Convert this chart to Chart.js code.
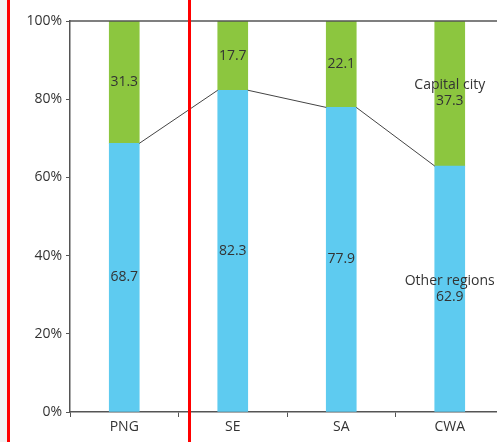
<!DOCTYPE html>
<html>
<head>
<meta charset="utf-8">
<script src="https://cdn.jsdelivr.net/npm/chart.js@4"></script>
<style>
  html, body { margin: 0; padding: 0; background: #fff; overflow: hidden; }
  #wrap { position: absolute; left: 0; top: 0; width: 506px; height: 442px; }
  .strip { position: absolute; left: 0; top: 0; width: 7px; height: 442px; background: #f2f2f2; }
  .red { position: absolute; top: 0; width: 3px; height: 442px; background: #ff0000; }
</style>
</head>
<body>
<div id="wrap"><canvas id="c" width="506" height="442"></canvas></div>
<div class="strip"></div>
<div class="red" style="left:7px"></div>
<div class="red" style="left:188px"></div>
<script>
// dati
const categories = ["PNG", "SE", "SA", "CWA"];
const otherRegions = [68.7, 82.3, 77.9, 62.9];
const capitalCity = [31.3, 17.7, 22.1, 37.3];
const seriesNames = ["Other regions", "Capital city"];

const FONT = "'Open Sans', sans-serif";
const TXT = "#333";

// linea che unisce le cime delle barre blu + bordo superiore
const linkLine = {
  id: "linkLine",
  afterDatasetsDraw(chart) {
    const ctx = chart.ctx;
    const bars = chart.getDatasetMeta(0).data;
    ctx.save();
    ctx.strokeStyle = "#444";
    ctx.lineWidth = 1;
    ctx.beginPath();
    for (let i = 0; i < bars.length - 1; i++) {
      const a = bars[i], b = bars[i + 1];
      ctx.moveTo(a.x + a.width / 2, a.y);
      ctx.lineTo(b.x - b.width / 2, b.y);
    }
    ctx.stroke();
    const ca = chart.chartArea;
    ctx.strokeStyle = "#555";
    ctx.lineWidth = 1.5;
    ctx.beginPath();
    ctx.moveTo(ca.left, ca.top);
    ctx.lineTo(ca.right, ca.top);
    ctx.stroke();
    ctx.restore();
  }
};

// etichette dentro le barre
const barLabels = {
  id: "barLabels",
  afterDatasetsDraw(chart) {
    const ctx = chart.ctx;
    ctx.save();
    ctx.font = "14px " + FONT;
    ctx.fillStyle = TXT;
    ctx.textAlign = "center";
    ctx.textBaseline = "middle";
    chart.data.datasets.forEach((ds, di) => {
      const meta = chart.getDatasetMeta(di);
      meta.data.forEach((bar, i) => {
        const cy = (bar.y + bar.base) / 2;
        const val = ds.data[i].toFixed(1);
        if (i === categories.length - 1) {
          ctx.fillText(seriesNames[di], bar.x, cy - 8);
          ctx.fillText(val, bar.x, cy + 8);
        } else {
          ctx.fillText(val, bar.x, cy);
        }
      });
    });
    ctx.restore();
  }
};

new Chart(document.getElementById("c"), {
  type: "bar",
  data: {
    labels: categories,
    datasets: [
      { label: seriesNames[0], data: otherRegions, backgroundColor: "#5ecbf0" },
      { label: seriesNames[1], data: capitalCity, backgroundColor: "#8cc63f" }
    ]
  },
  options: {
    responsive: false,
    animation: false,
    devicePixelRatio: 1,
    layout: { padding: { top: 21, right: 2, left: 0, bottom: 0 } },
    plugins: { legend: { display: false }, tooltip: { enabled: false } },
    datasets: { bar: { barThickness: 30 } },
    scales: {
      x: {
        stacked: true,
        afterFit: s => { s.height = 30; },
        grid: { drawOnChartArea: false, drawTicks: true, tickLength: 5, color: "#555", offset: true },
        border: { color: "#555", width: 1.5 },
        ticks: { color: TXT, font: { family: FONT, size: 14 }, padding: 2 }
      },
      y: {
        stacked: true,
        min: 0,
        max: 100,
        afterFit: s => { s.width = 70; },
        grid: { drawOnChartArea: false, drawTicks: true, tickLength: 4, color: "#555" },
        border: { color: "#555", width: 1.5 },
        ticks: { stepSize: 20, color: TXT, font: { family: FONT, size: 14 }, padding: 4, callback: v => v + "%" }
      }
    }
  },
  plugins: [linkLine, barLabels]
});
</script>
</body>
</html>
